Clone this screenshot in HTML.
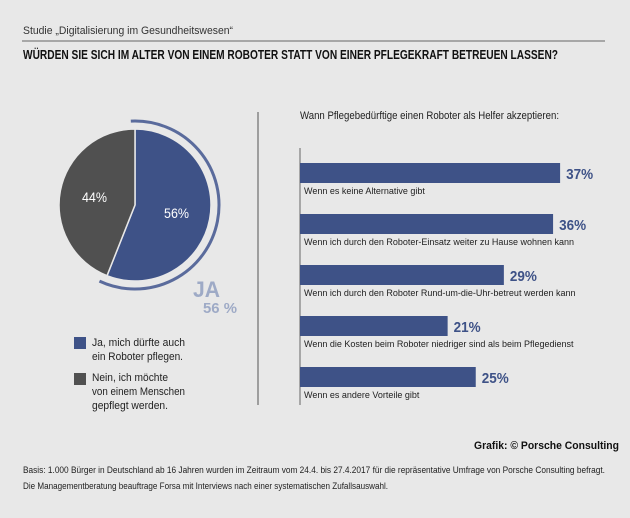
<!DOCTYPE html>
<html><head><meta charset="utf-8"><style>
html,body{margin:0;padding:0;background:#e8e8e8;}
svg{display:block;font-family:"Liberation Sans Narrow","Liberation Sans",sans-serif;}
</style></head><body>
<svg id="c" width="630" height="518" viewBox="0 0 630 518" xmlns="http://www.w3.org/2000/svg">
<rect width="630" height="518" fill="#e8e8e8"/>
<text x="23" y="34" font-size="11" fill="#333" textLength="210" lengthAdjust="spacingAndGlyphs">Studie „Digitalisierung im Gesundheitswesen“</text>
<line x1="22" y1="41" x2="605" y2="41" stroke="#666" stroke-width="1"/>
<text x="23" y="59" font-size="12.5" font-weight="bold" fill="#111" textLength="535" lengthAdjust="spacingAndGlyphs">WÜRDEN SIE SICH IM ALTER VON EINEM ROBOTER STATT VON EINER PFLEGEKRAFT BETREUEN LASSEN?</text>
<g id="pie"></g>
<text x="193" y="297" font-size="22" font-weight="bold" fill="#9eaac6" textLength="27" lengthAdjust="spacingAndGlyphs">JA</text>
<text x="203" y="313" font-size="15" font-weight="bold" fill="#9eaac6" textLength="34" lengthAdjust="spacingAndGlyphs">56 %</text>
<rect x="74" y="337" width="12" height="12" fill="#3e5287"/>
<text font-size="11" fill="#222"><tspan x="92" y="346" textLength="93" lengthAdjust="spacingAndGlyphs">Ja, mich dürfte auch</tspan><tspan x="92" y="360" textLength="91" lengthAdjust="spacingAndGlyphs">ein Roboter pflegen.</tspan></text>
<rect x="74" y="373" width="12" height="12" fill="#505050"/>
<text font-size="11" fill="#222"><tspan x="92" y="381" textLength="76" lengthAdjust="spacingAndGlyphs">Nein, ich möchte</tspan><tspan x="92" y="395" textLength="93" lengthAdjust="spacingAndGlyphs">von einem Menschen</tspan><tspan x="92" y="409" textLength="76" lengthAdjust="spacingAndGlyphs">gepflegt werden.</tspan></text>
<line x1="258" y1="112" x2="258" y2="405" stroke="#555" stroke-width="1"/>
<text x="300" y="119" font-size="11" fill="#222" textLength="259" lengthAdjust="spacingAndGlyphs">Wann Pflegebedürftige einen Roboter als Helfer akzeptieren:</text>
<line x1="300" y1="148" x2="300" y2="405" stroke="#666" stroke-width="1"/>
<g id="bars"></g>
<text x="619" y="449" font-size="11" font-weight="bold" fill="#111" text-anchor="end" textLength="145" lengthAdjust="spacingAndGlyphs">Grafik: © Porsche Consulting</text>
<text x="23" y="473" font-size="9" fill="#222" textLength="582" lengthAdjust="spacingAndGlyphs">Basis: 1.000 Bürger in Deutschland ab 16 Jahren wurden im Zeitraum vom 24.4. bis 27.4.2017 für die repräsentative Umfrage von Porsche Consulting befragt.</text>
<text x="23" y="489" font-size="9" fill="#222" textLength="365" lengthAdjust="spacingAndGlyphs">Die Managementberatung beauftrage Forsa mit Interviews nach einer systematischen Zufallsauswahl.</text>
</svg>
<script>
const pieLabels = ["Ja", "Nein"];
const pieValues = [56, 44];
const categories = ["Wenn es keine Alternative gibt","Wenn ich durch den Roboter-Einsatz weiter zu Hause wohnen kann","Wenn ich durch den Roboter Rund-um-die-Uhr-betreut werden kann","Wenn die Kosten beim Roboter niedriger sind als beim Pflegedienst","Wenn es andere Vorteile gibt"];
const barValues = [37, 36, 29, 21, 25];
const valueLabels = ["37%","36%","29%","21%","25%"];

const NS = "http://www.w3.org/2000/svg";
function mk(tag, attrs, parent){const e=document.createElementNS(NS,tag);for(const k in attrs)e.setAttribute(k,attrs[k]);parent.appendChild(e);return e;}

const pie = document.getElementById('pie');
const cx=135, cy=205, r=76;
const total = pieValues.reduce((a,b)=>a+b,0);
const pieColors=["#3e5287","#505050"];
function pt(a,rr){return [cx+rr*Math.sin(a), cy-rr*Math.cos(a)];}
let a0=0;
pieValues.forEach((v,i)=>{
  const a1=a0+v/total*2*Math.PI;
  const p0=pt(a0,r), p1=pt(a1,r);
  const large=(a1-a0)>Math.PI?1:0;
  const s=mk('path',{d:`M${cx},${cy} L${p0[0]},${p0[1]} A${r},${r} 0 ${large} 1 ${p1[0]},${p1[1]} Z`,fill:pieColors[i],stroke:"#e8e8e8","stroke-width":1.5},pie);
  
  
  const m=(a0+a1)/2, lp=pt(m,r*0.55);
  const t=mk('text',{x:lp[0]-12,y:lp[1]+5,"font-size":14,fill:"#fff",textLength:25,lengthAdjust:"spacingAndGlyphs"},pie);
  t.textContent=v+"%";
  
  
  if(i===0){
    const ar=84, s0=a0-0.05, s1=a1+0.06;
    const q0=pt(s0,ar), q1=pt(s1,ar);
    const arc=mk('path',{d:`M${q0[0]},${q0[1]} A${ar},${ar} 0 ${(s1-s0)>Math.PI?1:0} 1 ${q1[0]},${q1[1]}`,fill:"none",stroke:"#5a6b9c","stroke-width":3},pie);
    
    
  }
  a0=a1;
});

const bars=document.getElementById('bars');
const x0=300, pxPer=7.03, top0=163, step=51, bh=20;
const xs=v=>x0+v*pxPer;
categories.forEach((c,i)=>{
  const y=top0+i*step;
  const b=mk('rect',{x:x0,y:y,width:xs(barValues[i])-x0,height:bh,fill:"#3e5287"},bars);
  
  
  const v=mk('text',{x:xs(barValues[i])+6,y:y+bh/2+6,"font-size":15,"font-weight":"bold",fill:"#3e5287",textLength:27,lengthAdjust:"spacingAndGlyphs"},bars);
  v.textContent=valueLabels[i];
  
  
  const l=mk('text',{x:304,y:y+bh+11,"font-size":9,fill:"#222"},bars);
  l.textContent=c;
  
  
});
</script>
</body></html>
